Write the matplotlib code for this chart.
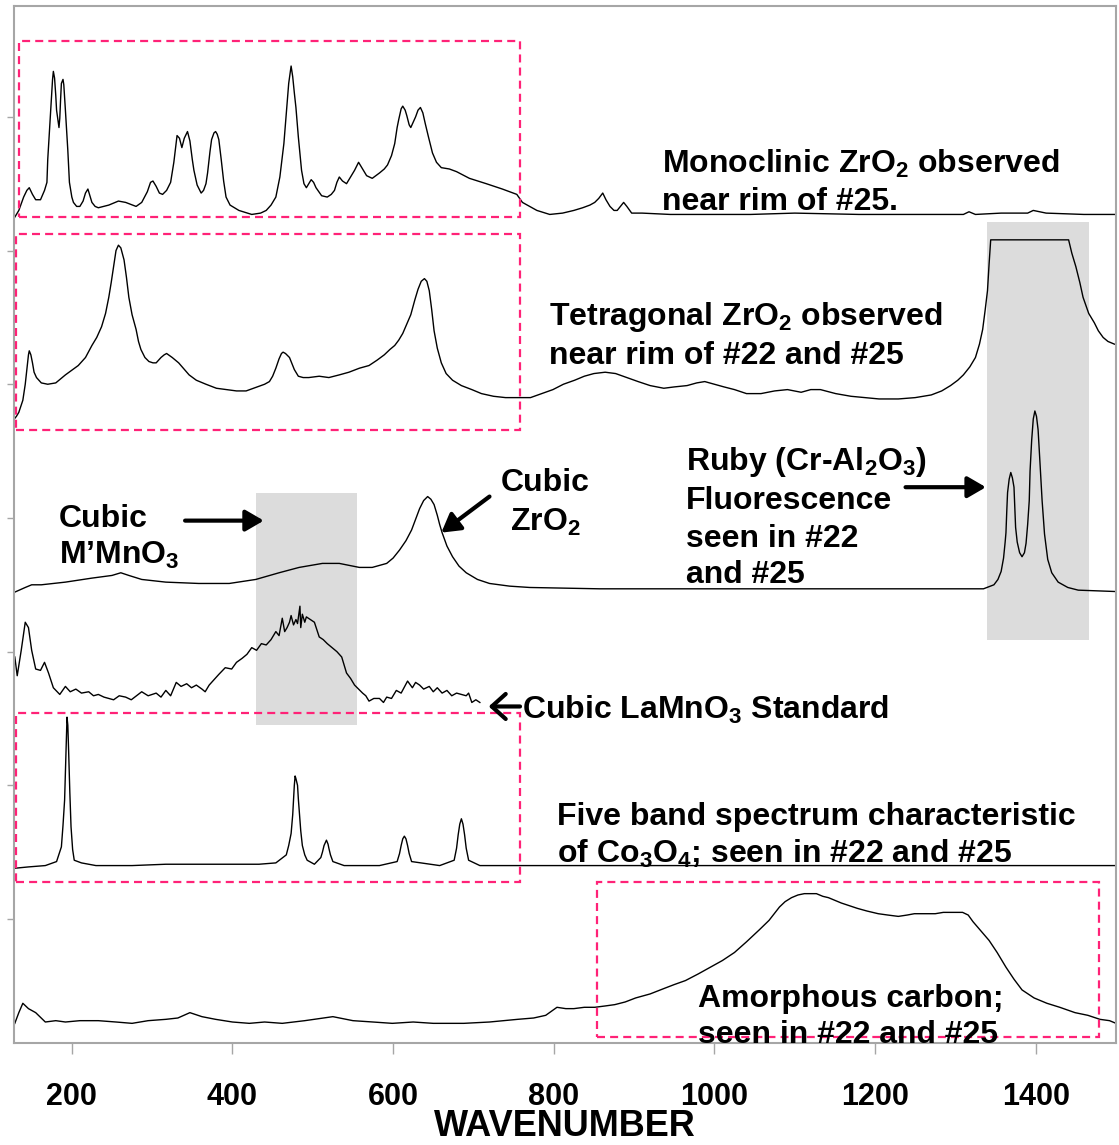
import matplotlib
matplotlib.use('Agg')
import numpy as np
import matplotlib.pyplot as plt
from matplotlib.patches import Rectangle

plt.rcParams['font.family'] = ['Liberation Sans', 'DejaVu Sans']
plt.rcParams['font.weight'] = 'bold'
plt.rcParams['mathtext.fontset'] = 'custom'
plt.rcParams['mathtext.rm'] = 'Liberation Sans:bold'
plt.rcParams['mathtext.it'] = 'Liberation Sans:bold'
plt.rcParams['mathtext.bf'] = 'Liberation Sans:bold'

# ---------------- Raman spectra (wavenumber, stacked intensity a.u.) ----------------
# Monoclinic ZrO2, near rim of #25
mono_wn = [127, 131, 134, 140, 144, 147, 151, 155, 161, 166, 169, 170, 172, 174, 176, 177,
           178.5, 180, 181, 184, 185, 186, 187, 189, 190, 191, 192, 195, 197, 200, 202, 206,
           210, 214, 217, 220, 222, 225, 229, 233, 246, 258, 267, 280, 287, 294, 298, 301,
           305, 309, 313, 318, 323, 327, 331, 334, 337, 340, 344, 347, 350, 352, 356, 361,
           364, 367, 369, 372, 374, 377, 379, 381, 383, 386, 389, 392, 397, 408, 424, 435,
           442, 448, 454, 459, 464, 467, 470, 473, 475, 477, 479, 482, 486, 489, 492, 495,
           498, 501, 504, 511, 518, 523, 527, 530, 533, 537, 542, 547, 552, 557, 561, 567,
           574, 583, 589, 593, 598, 602, 605, 607, 610, 612, 615, 617, 620, 622, 625, 628,
           631, 634, 637, 640, 644, 649, 654, 660, 670, 679, 695, 716, 736, 754, 761, 770,
           779, 795, 811, 825, 836, 845, 851, 856, 861, 865, 870, 875, 879, 883, 887, 891,
           897, 910, 945, 1000, 1045, 1100, 1180, 1250, 1310, 1317, 1325, 1357, 1390, 1397,
           1405, 1413, 1460, 1500]
mono_int = [6.23, 6.27, 6.30, 6.40, 6.45, 6.47, 6.42, 6.38, 6.38, 6.45, 6.51, 6.68, 6.88, 7.09, 7.28, 7.34,
            7.29, 7.16, 7.05, 6.92, 6.99, 7.13, 7.25, 7.28, 7.24, 7.15, 7.05, 6.75, 6.51, 6.40, 6.36, 6.33,
            6.33, 6.37, 6.43, 6.46, 6.42, 6.36, 6.33, 6.32, 6.34, 6.37, 6.36, 6.33, 6.36, 6.44, 6.51, 6.52,
            6.48, 6.43, 6.42, 6.45, 6.51, 6.66, 6.86, 6.84, 6.77, 6.84, 6.89, 6.82, 6.68, 6.60, 6.49, 6.43,
            6.45, 6.50, 6.58, 6.74, 6.83, 6.88, 6.89, 6.87, 6.83, 6.68, 6.52, 6.40, 6.34, 6.30, 6.27, 6.28,
            6.30, 6.34, 6.40, 6.55, 6.80, 7.02, 7.25, 7.38, 7.30, 7.18, 7.07, 6.85, 6.60, 6.50, 6.47, 6.50,
            6.53, 6.51, 6.47, 6.41, 6.40, 6.42, 6.45, 6.51, 6.55, 6.52, 6.50, 6.55, 6.60, 6.66, 6.62, 6.56,
            6.54, 6.58, 6.61, 6.64, 6.71, 6.80, 6.92, 6.98, 7.06, 7.08, 7.05, 7.01, 6.94, 6.92, 6.96, 7.00,
            7.05, 7.07, 7.03, 6.95, 6.85, 6.73, 6.66, 6.62, 6.61, 6.59, 6.54, 6.50, 6.46, 6.42, 6.36, 6.33,
            6.30, 6.27, 6.28, 6.30, 6.32, 6.34, 6.36, 6.39, 6.43, 6.38, 6.33, 6.30, 6.30, 6.33, 6.36, 6.33,
            6.28, 6.28, 6.27, 6.27, 6.27, 6.28, 6.27, 6.27, 6.27, 6.29, 6.27, 6.28, 6.28, 6.30,
            6.29, 6.28, 6.27, 6.27]

# Tetragonal ZrO2, near rim of #22 and #25 (detector saturates near 1350-1440)
tetra_wn = [127, 131, 134, 139, 142, 144, 146, 147, 149, 151, 153, 156, 162, 170, 180, 192,
            208, 217, 225, 231, 237, 242, 246, 249, 252, 255, 258, 261, 265, 268, 271, 275,
            280, 283, 286, 291, 296, 301, 305, 311, 315, 318, 325, 333, 346, 355, 367, 380,
            392, 405, 417, 431, 440, 446, 450, 454, 458, 461, 463, 466, 471, 477, 482, 488,
            495, 508, 520, 533, 545, 558, 570, 580, 589, 596, 602, 607, 612, 617, 622, 627,
            631, 635, 639, 642, 645, 648, 651, 655, 660, 666, 674, 685, 698, 710, 725, 740,
            753, 771, 785, 799, 812, 826, 838, 850, 864, 877, 891, 905, 920, 937, 950, 966,
            978, 988, 1000, 1012, 1025, 1040, 1058, 1075, 1091, 1108, 1120, 1132, 1151, 1170,
            1187, 1205, 1229, 1250, 1270, 1283, 1294, 1303, 1310, 1318, 1325, 1330, 1334, 1337,
            1340, 1342, 1344, 1441, 1445, 1450, 1455, 1459, 1466, 1473, 1478, 1484, 1490, 1498]
tetra_int = [4.73, 4.76, 4.79, 4.88, 5.00, 5.11, 5.22, 5.25, 5.22, 5.16, 5.09, 5.05, 5.01, 5.00, 5.01, 5.07,
             5.14, 5.20, 5.29, 5.35, 5.43, 5.53, 5.65, 5.76, 5.88, 6.00, 6.04, 6.02, 5.93, 5.80, 5.65, 5.52,
             5.41, 5.32, 5.26, 5.20, 5.17, 5.16, 5.16, 5.20, 5.22, 5.23, 5.20, 5.16, 5.07, 5.03, 5.00, 4.97,
             4.96, 4.95, 4.95, 4.98, 5.00, 5.02, 5.06, 5.12, 5.19, 5.23, 5.24, 5.23, 5.20, 5.11, 5.06, 5.05,
             5.05, 5.06, 5.05, 5.07, 5.09, 5.12, 5.14, 5.18, 5.22, 5.26, 5.29, 5.33, 5.38, 5.45, 5.52, 5.63,
             5.71, 5.77, 5.79, 5.77, 5.70, 5.56, 5.40, 5.27, 5.16, 5.08, 5.03, 4.99, 4.96, 4.93, 4.91, 4.90,
             4.90, 4.90, 4.93, 4.96, 5.00, 5.03, 5.06, 5.08, 5.09, 5.08, 5.05, 5.02, 4.99, 4.97, 4.98, 4.99,
             5.01, 5.02, 5.00, 4.98, 4.96, 4.93, 4.93, 4.95, 4.96, 4.94, 4.96, 4.96, 4.93, 4.91,
             4.90, 4.89, 4.89, 4.90, 4.92, 4.95, 4.99, 5.03, 5.07, 5.13, 5.20, 5.30, 5.41, 5.55,
             5.70, 5.90, 6.08, 6.08, 5.98, 5.88, 5.76, 5.65, 5.53, 5.46, 5.40, 5.35, 5.32, 5.30]

# Cubic ZrO2 with ruby (Cr-Al2O3) fluorescence doublet
cubic_wn = [127, 142, 150, 162, 192, 225, 250, 261, 271, 287, 317, 358, 396, 429, 458, 483,
            512, 533, 558, 574, 592, 600, 608, 616, 623, 628, 633, 638, 643, 647, 651, 655,
            658, 661, 667, 674, 682, 691, 705, 720, 745, 770, 857, 982, 1107, 1232, 1294, 1335,
            1348, 1353, 1357, 1360, 1362, 1363, 1364, 1365, 1367, 1369, 1371, 1373, 1374, 1375,
            1377, 1380, 1383, 1386, 1388, 1390, 1392, 1393, 1395, 1397, 1399, 1401, 1403, 1405,
            1408, 1411, 1415, 1420, 1428, 1440, 1453, 1498]
cubic_int = [3.44, 3.48, 3.50, 3.50, 3.52, 3.55, 3.57, 3.59, 3.57, 3.54, 3.52, 3.51, 3.51, 3.54, 3.59, 3.63,
             3.66, 3.66, 3.63, 3.63, 3.66, 3.70, 3.76, 3.83, 3.91, 3.99, 4.07, 4.13, 4.16, 4.14, 4.10, 4.02,
             3.95, 3.89, 3.79, 3.71, 3.64, 3.59, 3.54, 3.51, 3.49, 3.48, 3.47, 3.47, 3.47, 3.47, 3.47, 3.47,
             3.50, 3.54, 3.60, 3.70, 3.82, 3.89, 4.05, 4.19, 4.29, 4.34, 4.30, 4.23, 4.08, 3.93,
             3.82, 3.74, 3.71, 3.74, 3.81, 3.95, 4.13, 4.35, 4.58, 4.74, 4.80, 4.76, 4.66, 4.45,
             4.13, 3.88, 3.69, 3.59, 3.52, 3.48, 3.46, 3.45]

# Cubic LaMnO3 standard
lamno_wn = [129, 132, 137, 142, 146, 150, 155, 161, 166, 171, 177, 185, 192, 198, 205, 212,
            221, 227, 233, 240, 252, 259, 267, 274, 287, 295, 305, 311, 317, 323, 330, 336,
            343, 349, 355, 362, 366, 371, 377, 383, 391, 399, 405, 412, 418, 424, 430, 436,
            442, 448, 454, 458, 462, 465, 468, 471, 473, 476, 479, 481, 484, 485, 487, 490,
            492, 497, 502, 508, 513, 518, 524, 530, 536, 542, 547, 552, 557, 562, 566, 570,
            576, 583, 588, 592, 598, 604, 610, 618, 624, 628, 633, 638, 645, 650, 655, 661,
            667, 673, 679, 685, 691, 694, 698, 703, 708]
lamno_int = [2.96, 2.82, 3.01, 3.22, 3.18, 3.01, 2.87, 2.86, 2.92, 2.84, 2.73, 2.68, 2.74, 2.70, 2.72, 2.69,
             2.70, 2.67, 2.68, 2.66, 2.64, 2.67, 2.66, 2.64, 2.70, 2.67, 2.69, 2.66, 2.71, 2.67, 2.77, 2.74,
             2.76, 2.73, 2.75, 2.72, 2.70, 2.75, 2.79, 2.83, 2.88, 2.87, 2.92, 2.95, 2.98, 3.03, 3.01, 3.06,
             3.05, 3.09, 3.15, 3.12, 3.25, 3.15, 3.18, 3.22, 3.27, 3.20, 3.24, 3.21, 3.34, 3.18, 3.28, 3.22,
             3.26, 3.24, 3.22, 3.11, 3.09, 3.06, 3.03, 3.00, 2.96, 2.84, 2.80, 2.75, 2.72, 2.69, 2.67, 2.63,
             2.65, 2.65, 2.62, 2.66, 2.65, 2.71, 2.69, 2.78, 2.73, 2.77, 2.75, 2.72, 2.74, 2.70, 2.73, 2.69,
             2.71, 2.67, 2.69, 2.68, 2.67, 2.69, 2.62, 2.64, 2.62]

# Co3O4 five band spectrum
co_wn = [129, 146, 167, 181, 187, 189, 191, 192.5, 194, 195, 196, 197.5, 199, 201, 203, 212,
         230, 275, 317, 358, 399, 433, 454, 467, 470, 473, 475, 476, 477, 478, 479, 481,
         482, 483, 485, 487, 490, 493, 502, 510, 512, 514, 517, 519, 520, 522, 525, 539,
         583, 605, 608, 610, 612, 614, 616, 618, 620, 623, 658, 676, 679, 681, 683, 685,
         687, 689, 691, 694, 708, 1500]
co_int = [1.38, 1.39, 1.40, 1.43, 1.54, 1.70, 1.89, 2.20, 2.51, 2.45, 2.26, 1.95, 1.69, 1.52, 1.44, 1.42,
          1.40, 1.40, 1.41, 1.41, 1.41, 1.41, 1.42, 1.48, 1.55, 1.64, 1.78, 1.89, 2.00, 2.07, 2.05, 2.00,
          1.90, 1.82, 1.66, 1.55, 1.48, 1.44, 1.41, 1.46, 1.50, 1.55, 1.59, 1.56, 1.53, 1.48, 1.43, 1.40,
          1.40, 1.43, 1.49, 1.55, 1.60, 1.62, 1.60, 1.55, 1.49, 1.43, 1.40, 1.44, 1.53, 1.63, 1.71, 1.75,
          1.71, 1.63, 1.53, 1.44, 1.40, 1.40]

# Amorphous carbon
carb_wn = [129, 134, 139, 146, 155, 167, 180, 192, 210, 233, 255, 275, 295, 317, 332, 347,
           362, 379, 400, 421, 440, 462, 490, 525, 550, 575, 599, 625, 650, 688, 720, 755,
           775, 790, 804, 815, 825, 838, 851, 864, 876, 889, 902, 920, 937, 950, 964, 980,
           995, 1010, 1025, 1040, 1056, 1068, 1081, 1088, 1096, 1104, 1112, 1120, 1127, 1135,
           1142, 1150, 1158, 1168, 1178, 1190, 1204, 1216, 1229, 1240, 1249, 1262, 1275, 1285,
           1295, 1302, 1309, 1316, 1322, 1332, 1342, 1352, 1363, 1373, 1383, 1398, 1414, 1430,
           1449, 1465, 1480, 1492, 1500]
carb_int = [0.22, 0.30, 0.37, 0.33, 0.30, 0.23, 0.24, 0.23, 0.24, 0.24, 0.23, 0.22, 0.24, 0.25, 0.26, 0.30,
            0.27, 0.25, 0.23, 0.22, 0.23, 0.22, 0.24, 0.27, 0.24, 0.23, 0.22, 0.23, 0.22, 0.22, 0.23, 0.25,
            0.26, 0.28, 0.34, 0.33, 0.33, 0.34, 0.34, 0.35, 0.36, 0.38, 0.41, 0.44, 0.48, 0.51, 0.54, 0.59,
            0.64, 0.69, 0.75, 0.83, 0.92, 0.99, 1.09, 1.13, 1.16, 1.18, 1.19, 1.19, 1.19, 1.17,
            1.16, 1.14, 1.12, 1.10, 1.08, 1.06, 1.04, 1.03, 1.02, 1.03, 1.04, 1.04, 1.04, 1.05,
            1.05, 1.05, 1.05, 1.03, 0.98, 0.91, 0.84, 0.75, 0.64, 0.55, 0.47, 0.41, 0.37, 0.34,
            0.30, 0.28, 0.25, 0.24, 0.22]

x_ticks = [200, 400, 600, 800, 1000, 1200, 1400]
y_ticks = [1, 2, 3, 4, 5, 6, 7]

PINK = '#ff2277'
GREY = '#a6a6a6'

fig = plt.figure(figsize=(11.19, 11.45), dpi=100)
ax = fig.add_axes([14/1119, 102/1145, 1102/1119, 1037/1145])

# grey highlight bands
ax.add_patch(Rectangle((429, 2.45), 126, 1.74, facecolor='#dcdcdc', edgecolor='none', zorder=0))
ax.add_patch(Rectangle((1339, 3.09), 127, 3.12, facecolor='#dcdcdc', edgecolor='none', zorder=0))

for wn, inten in [(mono_wn, mono_int), (tetra_wn, tetra_int), (cubic_wn, cubic_int),
                  (lamno_wn, lamno_int), (co_wn, co_int), (carb_wn, carb_int)]:
    ax.plot(wn, inten, color='black', lw=1.0, zorder=2)

# dashed boxes around the reference regions
for x0, y0, w, h in [(134, 6.25, 624, 1.32), (131, 4.66, 627, 1.46),
                     (131, 1.28, 627, 1.26), (854, 0.12, 625, 1.16)]:
    ax.add_patch(Rectangle((x0, y0), w, h, fill=False, edgecolor=PINK, lw=1.6,
                           linestyle=(0, (3.6, 2.3)), zorder=3))

fs = 23
tk = dict(fontsize=fs, fontweight='bold', color='black', zorder=5)
ax.text(935, 6.58, 'Monoclinic ZrO$_2$ observed', **tk)
ax.text(935, 6.30, 'near rim of #25.', **tk)
ax.text(794, 5.44, 'Tetragonal ZrO$_2$ observed', **tk)
ax.text(794, 5.15, 'near rim of #22 and #25', **tk)
ax.text(965, 4.36, 'Ruby (Cr-Al$_2$O$_3$)', **tk)
ax.text(965, 4.07, 'Fluorescence', **tk)
ax.text(965, 3.78, 'seen in #22', **tk)
ax.text(965, 3.51, 'and #25', **tk)
ax.text(789, 4.20, 'Cubic', ha='center', **tk)
ax.text(789, 3.90, 'ZrO$_2$', ha='center', **tk)
ax.text(184, 3.93, 'Cubic', **tk)
ax.text(184, 3.66, 'M\u2019MnO$_3$', **tk)
ax.text(760, 2.50, 'Cubic LaMnO$_3$ Standard', **tk)
ax.text(804, 1.70, 'Five band spectrum characteristic', **tk)
ax.text(804, 1.42, 'of Co$_3$O$_4$; seen in #22 and #25', **tk)
ax.text(979, 0.34, 'Amorphous carbon;', **tk)
ax.text(979, 0.07, 'seen in #22 and #25', **tk)

arrow = dict(arrowstyle='-|>,head_length=0.55,head_width=0.32', lw=3, color='black',
             mutation_scale=20, shrinkA=0, shrinkB=0)
ax.annotate('', xy=(439, 3.98), xytext=(341, 3.98), arrowprops=arrow, zorder=4)
ax.annotate('', xy=(1338, 4.23), xytext=(1238, 4.23), arrowprops=arrow, zorder=4)
ax.annotate('', xy=(660, 3.89), xytext=(720, 4.16), arrowprops=arrow, zorder=4)
# open arrow pointing at the LaMnO3 trace
ax.annotate('', xy=(719, 2.59), xytext=(758, 2.59),
            arrowprops=dict(arrowstyle='->,head_length=0.5,head_width=0.45', lw=3,
                            color='black', mutation_scale=20, shrinkA=0, shrinkB=0),
            zorder=4)

ax.set_xlim(128, 1500)
ax.set_ylim(0.073, 7.829)
ax.set_xticks(x_ticks)
ax.set_yticks(y_ticks)
ax.set_yticklabels([])
ax.tick_params(axis='x', direction='out', length=8, width=1, color=GREY,
               labelsize=22, pad=20)
ax.tick_params(axis='y', direction='out', length=5, width=1, color=GREY)
for lab in ax.get_xticklabels():
    lab.set_fontweight('bold')
for sp in ax.spines.values():
    sp.set_color(GREY)
    sp.set_linewidth(1.5)
ax.set_xlabel('WAVENUMBER', fontsize=26, fontweight='bold', labelpad=-2)

fig.savefig('out.png', dpi=100)
